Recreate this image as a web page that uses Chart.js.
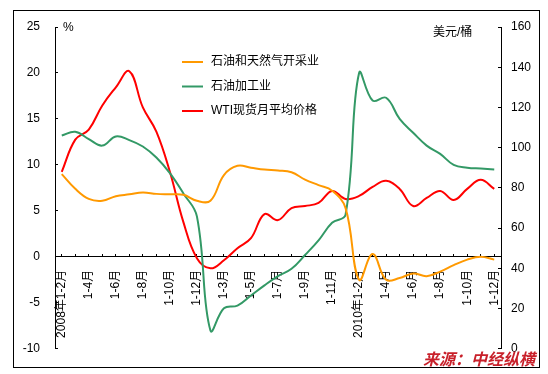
<!DOCTYPE html>
<html>
<head>
<meta charset="utf-8">
<script src="https://cdn.jsdelivr.net/npm/chart.js@4"></script>
<style>
  html, body { margin: 0; padding: 0; background: #fff; }
  canvas { display: block; }
</style>
</head>
<body>
<canvas id="oilChart" width="548" height="374"></canvas>
<script>
const months = [
  "2008年1-2月", "1-3月", "1-4月", "1-5月", "1-6月", "1-7月", "1-8月", "1-9月", "1-10月", "1-11月", "1-12月",
  "1-2月", "1-3月", "1-4月", "1-5月", "1-6月", "1-7月", "1-8月", "1-9月", "1-10月", "1-11月", "1-12月",
  "2010年1-2月", "1-3月", "1-4月", "1-5月", "1-6月", "1-7月", "1-8月", "1-9月", "1-10月", "1-11月", "1-12月",
];

// 石油和天然气开采业 (%)
const oilGas = [
  9.0, 7.4, 6.3, 6.1, 6.6, 6.8, 7.0, 6.85, 6.8, 6.75, 6.1,
  6.1, 8.9, 9.9, 9.7, 9.5, 9.4, 9.2, 8.4, 7.8, 7.2, 5.3,
  -2.5, 0.3, -2.5, -2.3, -1.8, -2.1, -1.6, -0.9, -0.3, 0.0, -0.3,
];

// 石油加工业 (%)
const refining = [
  13.2, 13.6, 12.8, 12.1, 13.1, 12.7, 12.0, 10.8, 9.1, 6.9, 4.4,
  -8.0, -5.6, -5.3, -4.2, -3.1, -2.1, -1.3, 0.2, 1.8, 3.7, 4.6,
  20.0, 17.0, 17.3, 15.0, 13.5, 12.1, 11.2, 10.0, 9.7, 9.6, 9.5,
];

// WTI现货月平均价格 (美元/桶)
const wti = [
  88, 104, 109, 121, 130, 138, 120, 108, 88, 63, 45,
  40, 44, 50, 55, 67, 64, 70, 71, 72.5, 78.5, 74.5,
  76, 80.5, 83.5, 79.5, 71, 75, 78.5, 74, 79.5, 84, 79.5,
];

const FONT = "'Liberation Sans', 'Noto Sans CJK SC', sans-serif";

Chart.defaults.font.family = FONT;
Chart.defaults.font.size = 12;
Chart.defaults.color = "#000";

// frame, unit labels, legend and source note
const decorPlugin = {
  id: "decor",
  beforeDraw(chart) {
    const ctx = chart.ctx;
    ctx.save();
    ctx.fillStyle = "#fff";
    ctx.fillRect(0, 0, chart.width, chart.height);
    ctx.strokeStyle = "#000";
    ctx.lineWidth = 1;
    ctx.strokeRect(13.5, 10.5, 526, 357);
    ctx.restore();
  },
  afterDraw(chart) {
    const ctx = chart.ctx;
    ctx.save();
    ctx.font = "12px " + FONT;
    ctx.fillStyle = "#000";
    ctx.textBaseline = "middle";
    ctx.textAlign = "left";
    ctx.fillText("%", 63, 28);
    ctx.fillText("美元/桶", 433, 33);

    chart.data.datasets.forEach((ds, i) => {
      const y = 62 + 24.5 * i;
      ctx.strokeStyle = ds.borderColor;
      ctx.lineWidth = 2;
      ctx.beginPath();
      ctx.moveTo(182, y);
      ctx.lineTo(203, y);
      ctx.stroke();
      ctx.fillText(ds.label, 211, y);
    });

    ctx.font = "italic bold 16px " + FONT;
    ctx.fillStyle = "#c8202a";
    ctx.fillText("来源：中经纵横", 423, 361);
    ctx.restore();
  },
};

const ctx = document.getElementById("oilChart").getContext("2d");
new Chart(ctx, {
  type: "line",
  data: {
    labels: months,
    datasets: [
      {
        label: "石油和天然气开采业",
        data: oilGas,
        yAxisID: "y",
        borderColor: "#ff9900",
        borderWidth: 2,
        pointRadius: 0,
        tension: 0.4,
      },
      {
        label: "石油加工业",
        data: refining,
        yAxisID: "y",
        borderColor: "#339966",
        borderWidth: 2,
        pointRadius: 0,
        tension: 0.4,
      },
      {
        label: "WTI现货月平均价格",
        data: wti,
        yAxisID: "y1",
        borderColor: "#ff0000",
        borderWidth: 2,
        pointRadius: 0,
        tension: 0.4,
      },
    ],
  },
  options: {
    responsive: false,
    animation: false,
    layout: { padding: { top: 27, bottom: 24, left: 13, right: 0 } },
    plugins: {
      legend: { display: false },
      tooltip: { enabled: false },
    },
    scales: {
      x: {
        type: "category",
        position: { y: 0 },
        offset: true,
        grid: { drawOnChartArea: false, tickLength: -3, color: "#000" },
        border: { display: true, color: "#000" },
        ticks: {
          autoSkip: false,
          maxRotation: 90,
          minRotation: 90,
          padding: 16,
          callback: function (value, index) {
            return index % 2 === 0 ? this.getLabelForValue(value) : "";
          },
        },
      },
      y: {
        position: "left",
        min: -10,
        max: 25,
        ticks: { stepSize: 5, padding: 18 },
        grid: { drawOnChartArea: false, tickLength: -3, color: "#000" },
        border: { display: true, color: "#000" },
        afterFit: (s) => { s.width = 42; },
      },
      y1: {
        position: "right",
        min: 0,
        max: 160,
        ticks: { stepSize: 20, padding: 13 },
        grid: { drawOnChartArea: false, tickLength: -3, color: "#000" },
        border: { display: true, color: "#000" },
        afterFit: (s) => { s.width = 47; },
      },
    },
  },
  plugins: [decorPlugin],
});
</script>
</body>
</html>
